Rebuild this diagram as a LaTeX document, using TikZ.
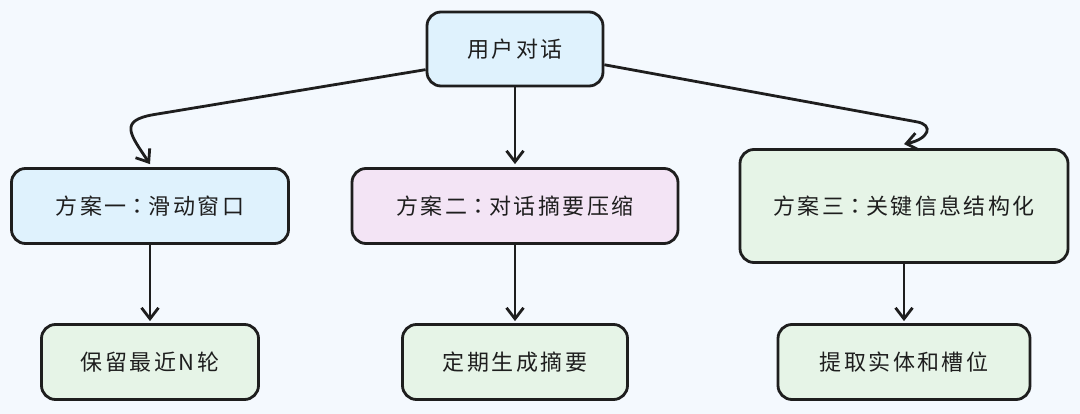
\documentclass[tikz,border=0pt]{standalone}
\usepackage{fontspec}
\setmainfont[LetterSpace=11]{Noto Sans CJK SC}
\newfontfamily\colonfont[LetterSpace=11]{Noto Sans CJK TC}
\usepackage{tikz}
\usetikzlibrary{positioning,arrows.meta}
\definecolor{pagebg}{HTML}{F4F9FE}
\definecolor{inkline}{HTML}{1E1E1E}
\definecolor{bluefill}{HTML}{DFF2FD}
\definecolor{pinkfill}{HTML}{F3E4F5}
\definecolor{greenfill}{HTML}{E6F4E7}
\newcommand{\fwcolon}{{\colonfont ：}}
\tikzset{
  box/.style={
    draw=inkline,
    line width=2.8pt,
    rounded corners=14pt,
    text=inkline,
    font=\fontsize{22}{26}\selectfont,
    minimum height=75pt,
    inner sep=0pt
  },
  link/.style={
    draw=inkline,
    line width=2.8pt,
    -{Straight Barb[length=11pt,width=17pt]}
  }
}

\begin{document}
\begin{tikzpicture}[x=1pt,y=1pt]
      \fill[pagebg] (0,0) rectangle (1080,-414);
      \useasboundingbox (0,0) rectangle (1080,-414);
      \node [box, fill=bluefill, minimum width=176pt, minimum height=74pt] (Chat) at (515,-49) {用户对话};
      \node [box, fill=pinkfill, minimum width=326pt, on grid, below=157pt of Chat] (Summary) {方案二\fwcolon 对话摘要压缩};
      \node [box, fill=bluefill, minimum width=277pt, on grid, left=365pt of Summary] (Window) {方案一\fwcolon 滑动窗口};
      \node [box, fill=greenfill, minimum width=328pt, minimum height=113pt, on grid, right=389pt of Summary] (Struct) {方案三\fwcolon 关键信息结构化};
      \node [box, fill=greenfill, minimum width=217pt, on grid, below=156pt of Window] (Recent) {保留最近N轮};
      \node [box, fill=greenfill, minimum width=225pt, on grid, below=156pt of Summary] (Digest) {定期生成摘要};
      \node [box, fill=greenfill, minimum width=252pt, on grid, below=156pt of Struct] (Slots) {提取实体和槽位};
      \draw [link] (Chat.193) -- ++(-272,-45) .. controls +(-35,-6) and +(-20,30) .. ([yshift=3pt]Window.north);
      \draw [link, shorten >=3pt] (Chat) -- (Summary);
      \draw [link] (Chat.350) -- ++(312,-57) .. controls +(18,-3) and +(25,5) .. ([yshift=4pt]Struct.north);
      \draw [link, shorten >=2pt] (Window) -- (Recent);
      \draw [link, shorten >=2pt] (Summary) -- (Digest);
      \draw [link, shorten >=2pt] (Struct) -- (Slots);
    \end{tikzpicture}
\end{document}
